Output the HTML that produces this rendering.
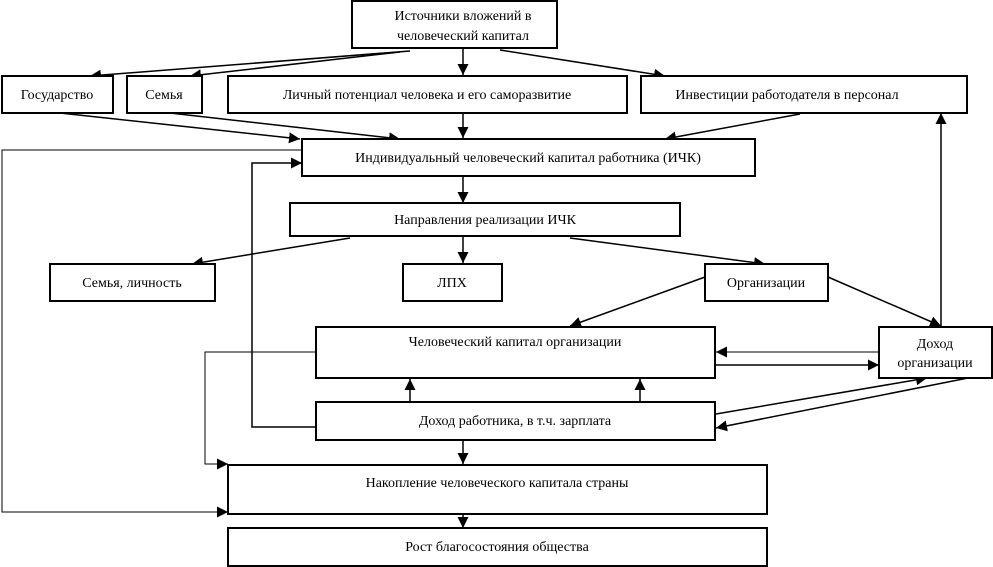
<!DOCTYPE html>
<html><head><meta charset="utf-8"><style>
html,body{margin:0;padding:0;background:#fff}
svg{display:block}
text{font-family:"Liberation Serif",serif;font-size:14px;fill:#000;text-anchor:middle}
rect{fill:#fff;stroke:#000;stroke-width:2}
.l{stroke:#000;stroke-width:1.5;fill:none}
.t{stroke:#000;stroke-width:1;fill:none}
</style></head><body>
<svg width="993" height="567" viewBox="0 0 993 567">
<defs><marker id="a" viewBox="0 0 10 10" refX="10" refY="5" markerWidth="7" markerHeight="7" markerUnits="userSpaceOnUse" orient="auto"><path d="M0,0L10,5L0,10z" fill="#000"/></marker>
<marker id="b" viewBox="0 0 10 10" refX="10" refY="5" markerWidth="11" markerHeight="11" markerUnits="userSpaceOnUse" orient="auto"><path d="M0,0L10,5L0,10z" fill="#000"/></marker></defs>

<!-- connectors -->
<g marker-end="url(#b)">
<line class="l" x1="410" y1="51" x2="90" y2="76"/>
<line class="l" x1="400" y1="52" x2="190" y2="76"/>
<line class="l" x1="463" y1="48" x2="463" y2="75"/>
<line class="l" x1="500" y1="50" x2="665" y2="76"/>
<line class="l" x1="60" y1="113" x2="300" y2="139"/>
<line class="l" x1="170" y1="113" x2="400" y2="139"/>
<line class="l" x1="463" y1="114" x2="463" y2="138"/>
<line class="l" x1="800" y1="114" x2="665" y2="139"/>
<polyline class="t" points="302,150 2,150 2,512 228,512"/>
<polyline class="l" points="316,427 252,427 252,163 302,163"/>
<line class="l" x1="463" y1="177" x2="463" y2="203"/>
<line class="l" x1="350" y1="238" x2="192" y2="264"/>
<line class="l" x1="463" y1="237" x2="463" y2="263"/>
<line class="l" x1="570" y1="238" x2="765" y2="264"/>
<line class="l" x1="705" y1="277" x2="570" y2="326"/>
<line class="l" x1="828" y1="277" x2="941" y2="326"/>
<line class="l" x1="941" y1="326" x2="941" y2="113"/>
<line class="t" x1="879" y1="352" x2="716" y2="352"/>
<line class="l" x1="716" y1="365" x2="879" y2="365"/>
<line class="l" x1="410" y1="402" x2="410" y2="379"/>
<line class="l" x1="640" y1="402" x2="640" y2="379"/>
<line class="l" x1="716" y1="414" x2="927" y2="378"/>
<line class="l" x1="968" y1="378" x2="716" y2="428"/>
<polyline class="t" points="316,352 205,352 205,464 228,464"/>
<line class="l" x1="463" y1="441" x2="463" y2="464"/>
<line class="l" x1="463" y1="515" x2="463" y2="528"/>
</g>

<!-- boxes -->
<rect x="352" y="1" width="205" height="47"/>
<text x="463" y="20">Источники вложений в</text>
<text x="463" y="40">человеческий капитал</text>
<rect x="2" y="76" width="111" height="37"/><text x="57" y="99">Государство</text>
<rect x="127" y="76" width="75" height="37"/><text x="164" y="99">Семья</text>
<rect x="228" y="76" width="399" height="37"/><text x="427" y="99">Личный потенциал человека и его саморазвитие</text>
<rect x="641" y="76" width="326" height="37"/><text x="787" y="99">Инвестиции работодателя в персонал</text>
<rect x="302" y="139" width="453" height="37"/><text x="528" y="162">Индивидуальный человеческий капитал работника (ИЧК)</text>
<rect x="290" y="203" width="390" height="33"/><text x="485" y="224">Направления реализации ИЧК</text>
<rect x="50" y="264" width="165" height="37"/><text x="132" y="287">Семья, личность</text>
<rect x="403" y="264" width="99" height="37"/><text x="452" y="287">ЛПХ</text>
<rect x="705" y="264" width="123" height="37"/><text x="766" y="287">Организации</text>
<rect x="316" y="327" width="399" height="51"/><text x="515" y="346">Человеческий капитал организации</text>
<rect x="879" y="327" width="113" height="51"/><text x="935" y="348">Доход</text><text x="935" y="367">организации</text>
<rect x="316" y="402" width="399" height="38"/><text x="515" y="425">Доход работника, в т.ч. зарплата</text>
<rect x="228" y="465" width="539" height="49"/><text x="497" y="487">Накопление человеческого капитала страны</text>
<rect x="228" y="528" width="539" height="38"/><text x="497" y="551">Рост благосостояния общества</text>
</svg>
</body></html>
